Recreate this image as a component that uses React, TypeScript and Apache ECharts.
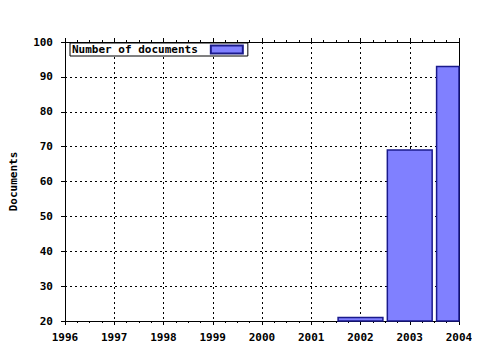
import React, { useEffect, useRef } from "react";
import * as echarts from "echarts";

const years = [2002, 2003, 2004];
const documents = [21, 69, 93];
const seriesName = "Number of documents";
const yAxisTitle = "Documents";

const FONT = "DejaVu Sans Mono";
const BAR_FILL = "#8080ff";
const BAR_STROKE = "#1a1a8c";

export default function App() {
  const ref = useRef<HTMLDivElement>(null);
  useEffect(() => {
    if (!ref.current) return;
    const chart = echarts.init(ref.current, null, { renderer: "svg" });
    const labelStyle = {
      fontFamily: FONT,
      fontWeight: "bold" as const,
      fontSize: 11,
      color: "#000",
    };
    const axisLine = { show: true, lineStyle: { color: "#000", width: 1 } };
    chart.setOption({
      animation: false,
      backgroundColor: "#fff",
      grid: { left: 65, right: 21, top: 42, bottom: 29 },
      legend: {
        show: true,
        left: 70,
        top: 43,
        align: "right",
        backgroundColor: "#fff",
        borderColor: "#000",
        borderWidth: 1,
        borderRadius: 0,
        padding: [1, 4, 1, 2],
        itemWidth: 32,
        itemHeight: 8,
        icon: "rect",
        textStyle: { ...labelStyle, padding: [0, 8, 0, 0] },
        data: [seriesName],
      },
      xAxis: [
        {
          type: "value",
          min: 1996,
          max: 2004,
          interval: 1,
          axisLine,
          axisTick: { show: true, length: 4, lineStyle: { color: "#000" } },
          minorTick: { show: true, splitNumber: 4, length: 2, lineStyle: { color: "#000" } },
          axisLabel: { ...labelStyle, margin: 11, formatter: (v: number) => String(v) },
          splitLine: { show: true, lineStyle: { color: "#000", type: [2, 3], width: 1 } },
        },
        {
          type: "value",
          position: "top",
          min: 1996,
          max: 2004,
          interval: 1,
          axisLine,
          axisTick: { show: true, length: 4, lineStyle: { color: "#000" } },
          minorTick: { show: true, splitNumber: 4, length: 2, lineStyle: { color: "#000" } },
          axisLabel: { show: false },
          splitLine: { show: false },
        },
      ],
      yAxis: [
        {
          type: "value",
          min: 20,
          max: 100,
          interval: 10,
          name: yAxisTitle,
          nameLocation: "middle",
          nameGap: 46,
          nameTextStyle: { ...labelStyle },
          axisLine,
          axisTick: { show: true, length: 4, lineStyle: { color: "#000" } },
          axisLabel: { ...labelStyle, margin: 12 },
          splitLine: { show: true, lineStyle: { color: "#000", type: [2, 3], width: 1 } },
        },
        {
          type: "value",
          position: "right",
          min: 20,
          max: 100,
          interval: 10,
          axisLine,
          axisTick: { show: false },
          axisLabel: { show: false },
          splitLine: { show: false },
        },
      ],
      series: [
        {
          name: seriesName,
          type: "custom",
          xAxisIndex: 0,
          yAxisIndex: 0,
          z: 1,
          itemStyle: { color: BAR_FILL, borderColor: BAR_STROKE, borderWidth: 1.5 },
          encode: { x: 0, y: 1 },
          data: years.map((y, i) => [y, documents[i]]),
          renderItem: (params: any, api: any) => {
            const xv = api.value(0);
            const yv = api.value(1);
            const top = api.coord([xv, yv]);
            const base = api.coord([xv, 20]);
            const w = api.size([1, 0])[0] * 0.91;
            const cs = params.coordSys;
            const shape = echarts.graphic.clipRectByRect(
              { x: top[0] - w / 2, y: top[1], width: w, height: base[1] - top[1] },
              { x: cs.x, y: cs.y, width: cs.width, height: cs.height }
            );
            if (!shape) return null;
            return {
              type: "rect",
              shape,
              style: { fill: BAR_FILL, stroke: BAR_STROKE, lineWidth: 1.5 },
            };
          },
        },
      ],
    });
    return () => chart.dispose();
  }, []);
  return <div ref={ref} style={{ width: 480, height: 350, margin: -8 }} />;
}
